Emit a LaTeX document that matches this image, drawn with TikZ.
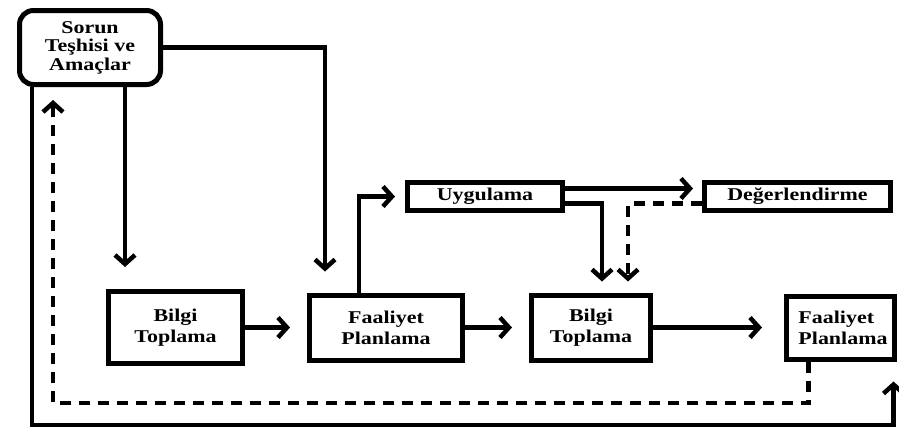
\documentclass[tikz,border=0pt]{standalone}
\usepackage{fontspec}
\setmainfont{Liberation Serif}[FakeStretch=1.22]
\usetikzlibrary{arrows.meta,positioning}

\begin{document}
\begin{tikzpicture}[x=1pt,y=-1pt,>={Straight Barb[length=9pt,width=20pt]},
  box/.style={draw,line width=5pt,inner sep=0pt,align=center,font=\bfseries\fontsize{18}{21}\selectfont},
  link/.style={line width=4.5pt},
  back/.style={link,dash pattern=on 11pt off 8pt}]
\useasboundingbox (0,0) rectangle (899,432);
\node[box,rounded corners=14pt,minimum width=141pt,minimum height=74pt,font=\bfseries\fontsize{18}{18.5}\selectfont] (sorun) at (90,47.5) {Sorun\\Teşhisi ve\\Amaçlar};
\node[box,minimum width=134pt,minimum height=72pt] (bilgi1) at (175.5,327.5) {Bilgi\\Toplama};
\node[box,minimum width=153pt,minimum height=65pt,right=62pt of bilgi1] (faal1) {Faaliyet\\Planlama};
\node[box,minimum width=119pt,minimum height=65pt,right=64pt of faal1] (bilgi2) {Bilgi\\Toplama};
\node[box,minimum width=108pt,minimum height=63pt,align=left,right=131pt of bilgi2] (faal2) {\hspace*{5pt}Faaliyet\\\hspace*{5pt}Planlama};
\node[box,minimum width=155pt,minimum height=28pt] (uyg) at (485,196.5) {Uygulama};
\node[box,minimum width=186pt,minimum height=28pt,right=137pt of uyg] (deg) {Değerlendirme};
\coordinate (dloop) at (53,403);
\coordinate (sloop) at (32,425);
% top box down to the first row
\draw[link,->,shorten >=21pt] (sorun.east) -| ([xshift=-61pt]faal1.north);
\draw[link,->,shorten >=22pt] ([xshift=35pt]sorun.south) -- ([xshift=35pt]sorun.south |- bilgi1.north);
% main row
\draw[link,->,shorten >=17pt] (bilgi1.east) -- (bilgi1.east -| faal1.west);
\draw[link,->,shorten >=17pt] (faal1.east) -- (bilgi2.west);
\draw[link,->,shorten >=22pt] (bilgi2.east) -- (faal2.west);
% upper branch
\draw[link,->,shorten >=10pt] ([xshift=-27pt]faal1.north) |- (uyg.west);
\draw[link,->,shorten >=9pt] ([yshift=8pt]uyg.east) -- ([yshift=8pt]deg.west);
\draw[link,->,shorten >=11pt] ([yshift=-7pt]uyg.east) -| ([xshift=11pt]bilgi2.north);
\draw[back,->,shorten >=11pt] ([yshift=-7pt]deg.west) -| ([xshift=37pt]bilgi2.north);
% feedback loops
\draw[back,->,shorten >=13pt] ([xshift=-32pt]faal2.south) |- (dloop) -- (dloop |- sorun.south);
\draw[link,->,shorten >=20pt] ([xshift=-58pt]sorun.south) -- (sloop) -| ([xshift=53pt]faal2.south);
\end{tikzpicture}
\end{document}
